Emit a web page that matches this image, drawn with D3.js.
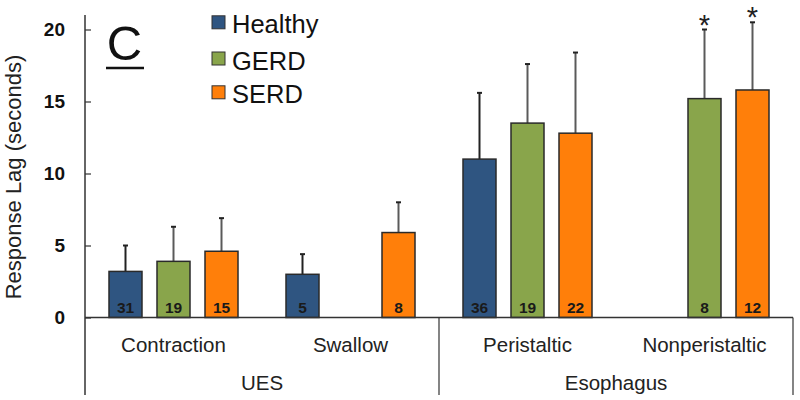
<!DOCTYPE html>
<html><head><meta charset="utf-8">
<script src="https://cdn.jsdelivr.net/npm/d3@7"></script>
<style>body{margin:0;background:#fff}svg{display:block}text{font-family:Arial,"Liberation Sans",sans-serif}</style>
</head><body><svg id="c" width="800" height="400"></svg>
<script>
const categories = ["Contraction","Swallow","Peristaltic","Nonperistaltic"];
const groups = [{name:"UES", cats:["Contraction","Swallow"]},{name:"Esophagus", cats:["Peristaltic","Nonperistaltic"]}];
const seriesNames = ["Healthy","GERD","SERD"];
const seriesColors = ["#2f5581","#89a54b","#ff7f0a"];
const means = {
  Healthy: [3.2, 3.0, 11.0, null],
  GERD:    [3.9, null, 13.5, 15.2],
  SERD:    [4.6, 5.9, 12.8, 15.8]
};
const errTops = {
  Healthy: [5.0, 4.4, 15.6, null],
  GERD:    [6.3, null, 17.6, 20.0],
  SERD:    [6.9, 8.0, 18.4, 20.5]
};
const counts = {
  Healthy: ["31","5","36",null],
  GERD:    ["19",null,"19","8"],
  SERD:    ["15","8","22","12"]
};
const significant = {Healthy:[false,false,false,false], GERD:[false,false,false,true], SERD:[false,false,false,true]};
const yTicks = [0,5,10,15,20];

const svg = d3.select("#c");
const x0 = 85, x1 = 793, yZero = 317.5, yTop = 29.5;
const y = d3.scaleLinear().domain([0,20]).range([yZero, yTop]);
const xb = d3.scaleBand().domain(categories).range([x0,x1]).padding(0);
const xs = d3.scaleBand().domain(seriesNames).range([-64.5,64.5]).paddingInner(0.3125).paddingOuter(0);
const bw = xs.bandwidth();

// bars
seriesNames.forEach((s,si)=>{
  categories.forEach((c,ci)=>{
    const v = means[s][ci];
    if(v==null) return;
    const bx = xb(c)+xb.bandwidth()/2 + xs(s);
    const mx = bx + bw/2;
    const g = svg.append("g");
    const et = errTops[s][ci];
    g.append("line").attr("x1",mx).attr("x2",mx).attr("y1",y(v)).attr("y2",y(et))
      .attr("stroke", s==="Healthy"?"#222":"#5a5a5a").attr("stroke-width",2);
    g.append("line").attr("x1",mx-2.5).attr("x2",mx+2.5).attr("y1",y(et)).attr("y2",y(et))
      .attr("stroke","#222").attr("stroke-width",2);
    g.append("rect").attr("x",bx).attr("y",y(v)).attr("width",bw).attr("height",y(0)-y(v))
      .attr("fill",seriesColors[si]).attr("stroke","#2a2a2a").attr("stroke-width",1.5);
    g.append("text").attr("x",mx).attr("y",y(0)-4.5).attr("text-anchor","middle")
      .attr("font-size",15.5).attr("font-weight","bold").attr("fill","#1a1a1a").text(counts[s][ci]);
    if(significant[s][ci]){
      g.append("text").attr("x",mx).attr("y",y(et)+5).attr("text-anchor","middle")
        .attr("font-size",29).attr("fill","#222").text("*");
    }
  });
});

// y axis
const yAxis = d3.axisLeft(y).tickValues(yTicks).tickSize(-6).tickPadding(20).tickFormat(d3.format("d"));
const ya = svg.append("g").attr("transform",`translate(${x0},0)`).call(yAxis);
ya.select(".domain").remove();
ya.selectAll(".tick line").attr("stroke","#333").attr("stroke-width",1.2);
ya.selectAll(".tick text").attr("font-size",19).attr("font-weight","bold").attr("fill","#111")
  .attr("font-family","Arial, 'Liberation Sans', sans-serif");
svg.append("line").attr("x1",x0).attr("x2",x0).attr("y1",15).attr("y2",395).attr("stroke","#333").attr("stroke-width",1.5);

// x baseline and separators
svg.append("line").attr("x1",x0).attr("x2",x1).attr("y1",yZero).attr("y2",yZero).attr("stroke","#333").attr("stroke-width",1.5);
const sepX = [xb("Peristaltic"), x1];
sepX.forEach(sx=>svg.append("line").attr("x1",sx).attr("x2",sx).attr("y1",yZero).attr("y2",395).attr("stroke","#333").attr("stroke-width",1.2));

categories.forEach(c=>{
  svg.append("text").attr("x",xb(c)+xb.bandwidth()/2).attr("y",352).attr("text-anchor","middle")
    .attr("font-size",20.5).attr("fill","#222").text(c);
});
groups.forEach(gr=>{
  const a = xb(gr.cats[0]), b = xb(gr.cats[gr.cats.length-1])+xb.bandwidth();
  svg.append("text").attr("x",(a+b)/2).attr("y",390).attr("text-anchor","middle")
    .attr("font-size",20.5).attr("fill","#222").text(gr.name);
});

// y title
svg.append("text").attr("transform","translate(21,177) rotate(-90)").attr("text-anchor","middle")
  .attr("font-size",22).attr("fill","#222").text("Response Lag (seconds)");

// panel letter
svg.append("text").attr("x",124.5).attr("y",60).attr("text-anchor","middle").attr("font-size",49).attr("fill","#111").text("C");
svg.append("line").attr("x1",106).attr("x2",144).attr("y1",68).attr("y2",68).attr("stroke","#111").attr("stroke-width",2.5);

// legend
const legendBase = [33.3, 69.5, 103.3];
seriesNames.forEach((s,i)=>{
  const by = legendBase[i];
  svg.append("rect").attr("x",212).attr("y",by-17.5).attr("width",13).attr("height",13)
    .attr("fill",seriesColors[i]).attr("stroke","#333").attr("stroke-width",1);
  svg.append("text").attr("x",232).attr("y",by).attr("font-size",25.5).attr("fill","#111").text(s);
});
</script></body></html>
